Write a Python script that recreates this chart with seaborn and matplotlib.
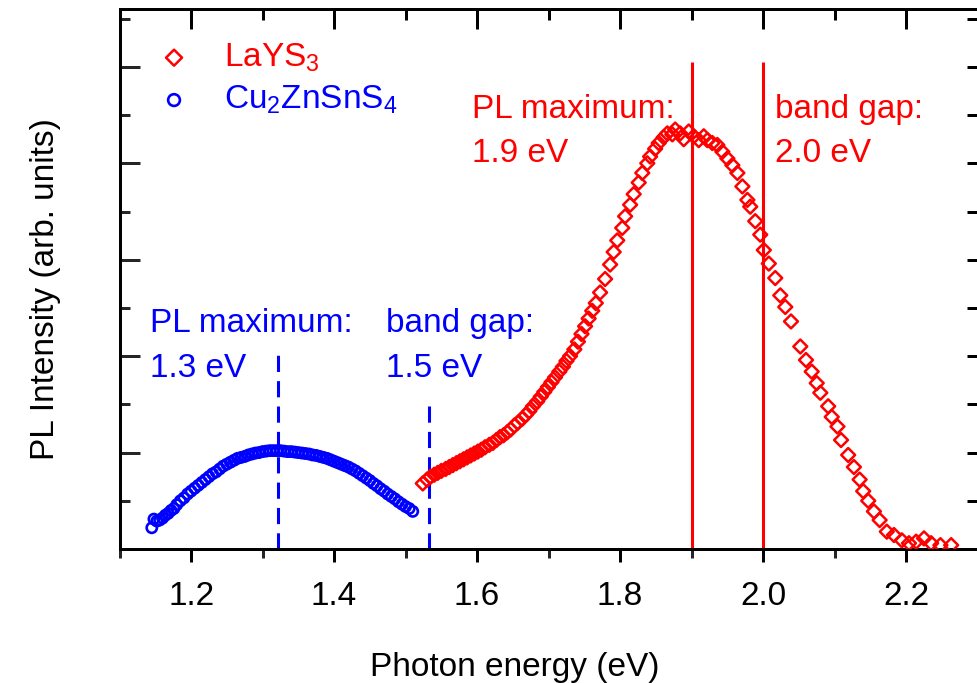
import matplotlib
matplotlib.use("Agg")
import matplotlib.pyplot as plt
from matplotlib.ticker import MultipleLocator, NullFormatter
import pandas as pd
import seaborn as sns

sns.set_theme(style="white")
plt.rcParams['font.family'] = ['Liberation Sans', 'DejaVu Sans']
plt.rcParams['mathtext.fontset'] = 'custom'
plt.rcParams['mathtext.rm'] = 'Liberation Sans'
plt.rcParams['mathtext.default'] = 'regular'

# LaYS3 spectrum
red_energy = [1.524, 1.530, 1.535, 1.540, 1.545, 1.550, 1.556, 1.561, 1.566, 1.571,
              1.576, 1.581, 1.586, 1.591, 1.596, 1.601, 1.606, 1.611, 1.617, 1.622,
              1.627, 1.632, 1.637, 1.642, 1.647, 1.652, 1.657, 1.663, 1.668, 1.673,
              1.678, 1.684, 1.689, 1.694, 1.699, 1.704, 1.709, 1.715, 1.720, 1.725,
              1.730, 1.736, 1.741, 1.746, 1.751, 1.756, 1.761, 1.766, 1.772,
              1.779, 1.786, 1.791, 1.796, 1.803, 1.807, 1.814, 1.819, 1.826, 1.831,
              1.838, 1.842, 1.849, 1.854, 1.861, 1.866, 1.873, 1.877, 1.884, 1.889,
              1.896, 1.903, 1.910, 1.917, 1.922, 1.929, 1.936, 1.943, 1.950, 1.957,
              1.964, 1.971, 1.978, 1.982, 1.989, 1.996, 2.001, 2.008, 2.017, 2.024,
              2.031, 2.039, 2.052, 2.060, 2.068, 2.075, 2.080, 2.091, 2.096, 2.104,
              2.109, 2.119, 2.127, 2.135, 2.140, 2.147, 2.155, 2.163, 2.173, 2.183,
              2.194, 2.204, 2.214, 2.225, 2.235, 2.248, 2.263]
red_intensity = [0.68, 0.72, 0.75, 0.77, 0.79, 0.81, 0.83, 0.85, 0.87, 0.89,
                 0.91, 0.93, 0.95, 0.97, 0.99, 1.01, 1.03, 1.055, 1.08, 1.10,
                 1.13, 1.16, 1.18, 1.21, 1.24, 1.28, 1.31, 1.35, 1.39, 1.43,
                 1.48, 1.53, 1.58, 1.63, 1.68, 1.73, 1.78, 1.84, 1.89, 1.95,
                 2.00, 2.07, 2.15, 2.23, 2.31, 2.39, 2.47, 2.55, 2.66,
                 2.80, 2.95, 3.08, 3.20, 3.33, 3.45, 3.57, 3.68, 3.80, 3.90,
                 4.00, 4.07, 4.15, 4.21, 4.27, 4.31, 4.30, 4.35, 4.31, 4.25,
                 4.33, 4.28, 4.24, 4.28, 4.24, 4.21, 4.19, 4.12, 4.05, 3.98,
                 3.90, 3.76, 3.62, 3.55, 3.40, 3.26, 3.10, 2.96, 2.81, 2.63,
                 2.51, 2.36, 2.10, 1.96, 1.84, 1.72, 1.62, 1.48, 1.37, 1.27,
                 1.13, 0.975, 0.85, 0.72, 0.60, 0.50, 0.39, 0.30, 0.18, 0.145,
                 0.09, 0.06, 0.076, 0.11, 0.06, 0.04, 0.04]

# Cu2ZnSnS4 spectrum
blue_energy = [1.145, 1.148, 1.152, 1.156, 1.160, 1.164, 1.168, 1.172, 1.176, 1.180,
               1.185, 1.190, 1.195, 1.200, 1.205, 1.210, 1.215, 1.220, 1.225, 1.230,
               1.235, 1.240, 1.245, 1.250, 1.255, 1.260, 1.265, 1.270, 1.275, 1.280,
               1.285, 1.290, 1.295, 1.300, 1.305, 1.310, 1.315, 1.320, 1.325, 1.330,
               1.335, 1.340, 1.345, 1.350, 1.355, 1.360, 1.365, 1.370, 1.375, 1.380,
               1.385, 1.390, 1.395, 1.400, 1.405, 1.410, 1.415, 1.420, 1.425, 1.430,
               1.435, 1.440, 1.445, 1.450, 1.455, 1.460, 1.465, 1.470, 1.475, 1.480,
               1.485, 1.490, 1.495, 1.500, 1.505, 1.510]
blue_intensity = [0.22, 0.31, 0.29, 0.30, 0.32, 0.35, 0.37, 0.40, 0.42, 0.46,
                  0.50, 0.53, 0.57, 0.60, 0.63, 0.66, 0.69, 0.72, 0.75, 0.78,
                  0.80, 0.83, 0.86, 0.88, 0.90, 0.92, 0.94, 0.95, 0.96, 0.975,
                  0.985, 0.995, 1.00, 1.01, 1.015, 1.02, 1.02, 1.02, 1.02, 1.015,
                  1.01, 1.01, 1.005, 1.00, 0.995, 0.99, 0.985, 0.975, 0.97, 0.96,
                  0.95, 0.94, 0.925, 0.91, 0.895, 0.88, 0.865, 0.85, 0.83, 0.81,
                  0.785, 0.76, 0.735, 0.71, 0.68, 0.655, 0.625, 0.60, 0.57, 0.545,
                  0.52, 0.49, 0.465, 0.44, 0.42, 0.39]

# marker lines: PL maximum and band gap
red_lines = [1.9, 2.0]
red_line_tops = [5.05, 5.05]
blue_lines = [1.322, 1.533]
blue_line_tops = [2.07, 1.52]

red_notes = [("PL maximum:", "1.9 eV", 1.593), ("band gap:", "2.0 eV", 2.017)]
blue_notes = [("PL maximum:", "1.3 eV", 1.143), ("band gap:", "1.5 eV", 1.472)]

x_major = [1.2, 1.4, 1.6, 1.8, 2.0, 2.2]
x_labels = ["1.2", "1.4", "1.6", "1.8", "2.0", "2.2"]

red_df = pd.DataFrame({"energy": red_energy, "intensity": red_intensity})
blue_df = pd.DataFrame({"energy": blue_energy, "intensity": blue_intensity})

fig = plt.figure(figsize=(9.78, 6.83), dpi=100)
ax = fig.add_axes([0.1223, 0.1962, 0.8773, 0.7906])

sns.scatterplot(data=red_df, x="energy", y="intensity", ax=ax, marker="D", s=50,
                fc="none", edgecolor="red", linewidth=1.8, label="LaYS$_3$", zorder=3)
sns.scatterplot(data=blue_df, x="energy", y="intensity", ax=ax, marker="o", s=54,
                fc="none", edgecolor="blue", linewidth=1.9, label="Cu$_2$ZnSnS$_4$", zorder=3)

ax.vlines(red_lines, 0, red_line_tops, colors="red", linewidth=2.2, zorder=2)
ax.vlines(blue_lines, 0, blue_line_tops, colors="blue", linewidth=2.2,
          linestyles=(0, (5.3, 3.0)), zorder=2)

for first, second, xpos in red_notes:
    ax.text(xpos, 4.47, first, color="red", fontsize=24, va="baseline")
    ax.text(xpos, 4.01, second, color="red", fontsize=24, va="baseline")
for first, second, xpos in blue_notes:
    ax.text(xpos, 2.25, first, color="blue", fontsize=24, va="baseline")
    ax.text(xpos, 1.78, second, color="blue", fontsize=24, va="baseline")

ax.set_xlim(1.1, 2.3)
ax.set_ylim(0, 5.6)
ax.set_xticks(x_major)
ax.set_xticklabels(x_labels)
ax.xaxis.set_minor_locator(MultipleLocator(0.1))
ax.yaxis.set_major_locator(MultipleLocator(1))
ax.yaxis.set_minor_locator(MultipleLocator(0.5))
ax.yaxis.set_major_formatter(NullFormatter())

ax.tick_params(axis="x", which="major", direction="out", length=9.4, width=2.16,
               labelsize=24, pad=14, color="black", labelcolor="black", bottom=True)
ax.tick_params(axis="x", which="minor", direction="out", length=6.8, width=2.16, bottom=True)
ax.tick_params(axis="y", which="major", direction="in", length=14.4, width=2.16, left=True)
ax.tick_params(axis="y", which="minor", direction="in", length=7.2, width=2.16, left=True)

for side in ["left", "bottom", "top"]:
    ax.spines[side].set_linewidth(2.16)
    ax.spines[side].set_color("black")
ax.spines["right"].set_visible(False)

# inward ticks on top and right
top = ax.secondary_xaxis("top")
top.set_xticks(x_major)
top.xaxis.set_minor_locator(MultipleLocator(0.1))
top.xaxis.set_major_formatter(NullFormatter())
top.tick_params(which="major", direction="in", length=14.4, width=2.16, color="black")
top.tick_params(which="minor", direction="in", length=7.8, width=2.16, color="black")
right = ax.secondary_yaxis("right")
right.yaxis.set_major_locator(MultipleLocator(1))
right.yaxis.set_minor_locator(MultipleLocator(0.5))
right.yaxis.set_major_formatter(NullFormatter())
right.tick_params(which="both", direction="in", length=8, width=2.16, color="black")
for sec in (top, right):
    for s in sec.spines.values():
        s.set_visible(False)

ax.set_xlabel("Photon energy (eV)", fontsize=24, color="black")
ax.set_ylabel("PL Intensity (arb. units)", fontsize=24, color="black")
ax.xaxis.set_label_coords(0.46, -0.19)
ax.yaxis.set_label_coords(-0.068, 0.4815)

ax.legend(loc="upper left", bbox_to_anchor=(0.044, 0.94), frameon=False, fontsize=24,
          handlelength=1.0, handletextpad=1.0, labelspacing=0.3, borderpad=0,
          borderaxespad=0, markerscale=1.15, labelcolor=["red", "blue"])

fig.savefig("out.png", dpi=100)
